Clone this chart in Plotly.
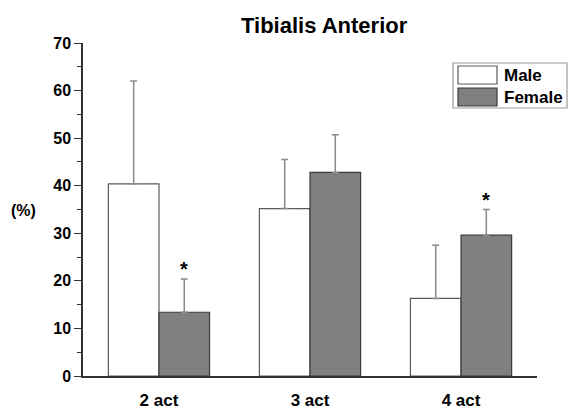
import plotly.graph_objects as go

categories = ["2 act", "3 act", "4 act"]
male = [40.4, 35.2, 16.3]
male_err = [21.6, 10.3, 11.2]
female = [13.4, 42.8, 29.6]
female_err = [7.0, 7.9, 5.4]
significant = [True, False, True]  # asterisk above female bars
y_ticks = [0, 10, 20, 30, 40, 50, 60, 70]

FONT = "Liberation Sans, Arial, sans-serif"
W, H = 568, 412
ML, MR, MT, MB = 83, 31, 43, 36
PW, PH = W - ML - MR, H - MT - MB

def px(x):
    return (x - ML) / PW

def py(y):
    return (H - MB - y) / PH

xpos = list(range(len(categories)))

fig = go.Figure()
fig.add_trace(go.Bar(
    x=xpos, y=male, name="Male",
    marker=dict(color="white", line=dict(color="#5a5a5a", width=1.2)),
    error_y=dict(type="data", array=male_err, symmetric=False, arrayminus=[0] * 3,
                 color="#8a8a8a", thickness=1.5, width=3.5),
    showlegend=False,
))
fig.add_trace(go.Bar(
    x=xpos, y=female, name="Female",
    marker=dict(color="#808080", line=dict(color="#3a3a3a", width=1.2)),
    error_y=dict(type="data", array=female_err, symmetric=False, arrayminus=[0] * 3,
                 color="#8a8a8a", thickness=1.5, width=3.5),
    showlegend=False,
))

annotations = []
for i, sig in enumerate(significant):
    if sig:
        annotations.append(dict(
            x=i + 0.1675, y=female[i] + female_err[i], xref="x", yref="y",
            text="<b>*</b>", showarrow=False, yanchor="bottom", yshift=-3,
            font=dict(family=FONT, size=20, color="black"),
        ))

# y-axis title "(%)"
annotations.append(dict(
    x=px(24), y=py(210), xref="paper", yref="paper", text="<b>(%)</b>",
    showarrow=False, xanchor="center", yanchor="middle",
    font=dict(family=FONT, size=16, color="black"),
))
# title
annotations.append(dict(
    x=px(324), y=py(25), xref="paper", yref="paper", text="<b>Tibialis Anterior</b>",
    showarrow=False, xanchor="center", yanchor="middle",
    font=dict(family=FONT, size=22, color="black"),
))

# legend (drawn manually)
shapes = [
    dict(type="rect", xref="paper", yref="paper", x0=px(453), x1=px(567), y0=py(108), y1=py(63),
         line=dict(color="#9a9a9a", width=1.2), fillcolor="white", layer="above"),
    dict(type="rect", xref="paper", yref="paper", x0=px(458), x1=px(497), y0=py(84), y1=py(66),
         line=dict(color="#5a5a5a", width=1.2), fillcolor="white", layer="above"),
    dict(type="rect", xref="paper", yref="paper", x0=px(458), x1=px(497), y0=py(106), y1=py(88),
         line=dict(color="#3a3a3a", width=1.2), fillcolor="#808080", layer="above"),
]
for name, yc in (("Male", 75), ("Female", 97)):
    annotations.append(dict(
        x=px(502), y=py(yc), xref="paper", yref="paper", text=f"<b>{name}</b>",
        showarrow=False, xanchor="left", yanchor="middle",
        font=dict(family=FONT, size=17, color="black"),
    ))

fig.update_layout(
    width=W, height=H,
    margin=dict(l=ML, r=MR, t=MT, b=MB, pad=0),
    paper_bgcolor="white", plot_bgcolor="white",
    barmode="group", bargap=0.33, bargroupgap=0,
    annotations=annotations, shapes=shapes,
    font=dict(family=FONT, color="black"),
)
fig.update_xaxes(
    range=[-0.503, 2.503], tickmode="array", tickvals=xpos,
    ticktext=[f"<b>{c}</b>" for c in categories],
    tickfont=dict(family=FONT, size=17, color="black"),
    showline=True, linecolor="#333333", linewidth=1.5,
    ticks="", showgrid=False, zeroline=False, ticklabelstandoff=8,
    automargin=False,
)
fig.update_yaxes(
    range=[0, 70], tickmode="array", tickvals=y_ticks,
    ticktext=[f"<b>{v}</b>" for v in y_ticks],
    tickfont=dict(family=FONT, size=16, color="black"),
    showline=True, linecolor="#333333", linewidth=1.5,
    ticks="outside", ticklen=7, tickwidth=1.2, tickcolor="#333333",
    minor=dict(ticks="outside", ticklen=4, tickwidth=1, tickcolor="#333333", dtick=5, showgrid=False),
    showgrid=False, zeroline=False, automargin=False,
)

fig.write_html("out.html")
